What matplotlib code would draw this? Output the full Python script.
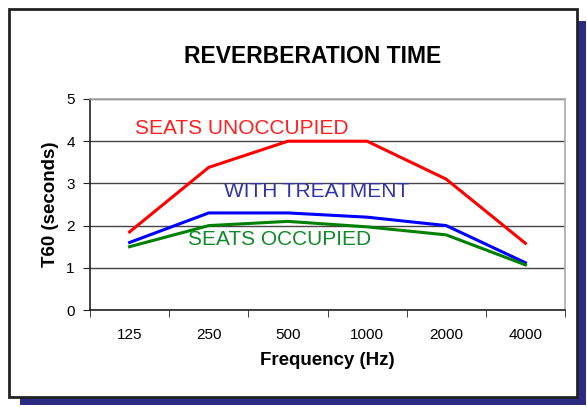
import matplotlib.pyplot as plt
import matplotlib.patches as patches

plt.rcParams['font.family'] = ['Liberation Sans', 'DejaVu Sans']

# data
freqs = ["125", "250", "500", "1000", "2000", "4000"]
unoccupied = [1.85, 3.38, 4.0, 4.0, 3.1, 1.58]
treatment = [1.6, 2.3, 2.3, 2.2, 2.0, 1.12]
occupied = [1.5, 2.0, 2.1, 1.97, 1.78, 1.07]

fig = plt.figure(figsize=(5.87, 4.07), dpi=100)

# shadow + frame
W, H = 587, 407
fig.patches.append(patches.Rectangle((20 / W, 2 / H), 566 / W, 384 / H,
                                     transform=fig.transFigure, facecolor="#2b2b83",
                                     edgecolor="none", zorder=0))
fig.patches.append(patches.Rectangle((9 / W, 10 / H), 568 / W, 388 / H,
                                     transform=fig.transFigure, facecolor="white",
                                     edgecolor="#222222", linewidth=2, zorder=1))

ax = fig.add_axes([90 / W, 97 / H, 475 / W, 211 / H])
ax.set_zorder(2)

x = [i + 0.5 for i in range(len(freqs))]
ax.plot(x, unoccupied, color="#ff0000", lw=2.2)
ax.plot(x, treatment, color="#0000ff", lw=2.2)
ax.plot(x, occupied, color="#008000", lw=2.2)

ax.set_xlim(0, len(freqs))
ax.set_ylim(0, 5)
ax.set_yticks(range(6))
ax.set_xticks(x)
ax.set_xticklabels(freqs)
ax.set_xticks(range(len(freqs) + 1), minor=True)
ax.tick_params(axis="x", which="major", length=0, pad=13, labelsize=11)
ax.tick_params(axis="x", which="minor", length=5, direction="out", color="#222222")
ax.tick_params(axis="y", length=5, direction="out", labelsize=11, pad=6, color="#222222")

ax.grid(axis="y", color="#444444", lw=1)
ax.set_axisbelow(True)
for s in ["left", "bottom"]:
    ax.spines[s].set_color("#222222")
    ax.spines[s].set_linewidth(1.2)
for s in ["top", "right"]:
    ax.spines[s].set_color("#aaaaaa")
    ax.spines[s].set_linewidth(1.2)

ax.text(0.57, 4.17, "SEATS UNOCCUPIED", color="#ff2020", fontsize=15)
ax.text(1.69, 2.68, "WITH TREATMENT", color="#3434a8", fontsize=15)
ax.text(1.24, 1.54, "SEATS OCCUPIED", color="#118a2a", fontsize=15)

ax.set_ylabel("T60 (seconds)", fontsize=13.5, fontweight="bold", va="center")
ax.yaxis.set_label_coords(-0.084, 0.5)
ax.set_xlabel("Frequency (Hz)", fontsize=13.5, fontweight="bold", va="baseline")
ax.xaxis.set_label_coords(0.5, -0.261)

fig.text(0.532, 0.845, "REVERBERATION TIME", ha="center", va="baseline",
         fontsize=16.5, fontweight="bold")

fig.savefig("out.png", dpi=100)
